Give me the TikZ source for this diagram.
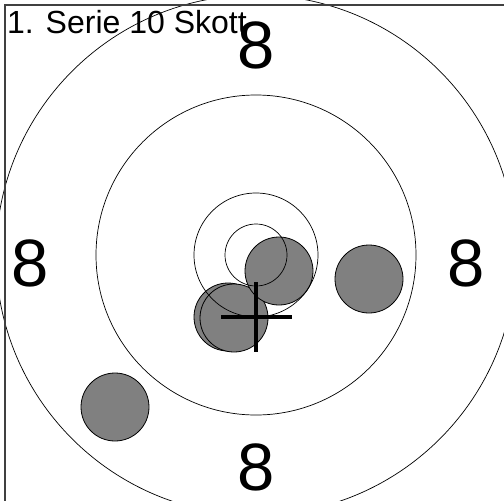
\documentclass[tikz,border=0pt]{standalone}
\usepackage{fontspec}
\setmainfont{Liberation Sans}
\begin{document}
\begin{tikzpicture}[x=1pt, y=-1pt,
    ring/.style={black, line width=0.7pt},
    shot/.style={fill=gray, draw=black, line width=0.8pt},
    ringlabel/.style={font=\fontsize{67}{67}\selectfont, inner sep=0pt, anchor=base},
    frameline/.style={black!75, line width=1.5pt},
    cross/.style={black, line width=3.5pt}]
    \useasboundingbox (0,0) rectangle (504,501);
    \clip (0,0) rectangle (504,501);

    % Shots
    \filldraw[shot] (115,407) circle (34);
    \filldraw[shot] (228,317) circle (34);
    \filldraw[shot] (234,318) circle (34);
    \filldraw[shot] (279,271) circle (34);
    \filldraw[shot] (369,279) circle (34);

    % Rings
    \coordinate (centre) at (256,255);
    \draw[ring] (centre) circle (260);
    \draw[ring] (centre) circle (160);
    \draw[ring] (centre) circle (62);
    \draw[ring] (centre) circle (31);

    % Frame
    \draw[frameline] (5,501) -- (5,5) -- (504,5);

    % Labels
    \node[font=\fontsize{32}{32}\selectfont, inner sep=0pt, anchor=base west] (title) at (7,33) {1. Serie 10 Skott};
    \node[ringlabel] (top8) at (256,68) {8};
    \node[ringlabel] (bottom8) at (256,490) {8};
    \node[ringlabel] (left8) at (30,286) {8};
    \node[ringlabel] (right8) at (466,286) {8};

    % Mean point of impact
    \draw[cross] (256,282) -- (256,352) (221,317) -- (292,317);
\end{tikzpicture}
\end{document}
